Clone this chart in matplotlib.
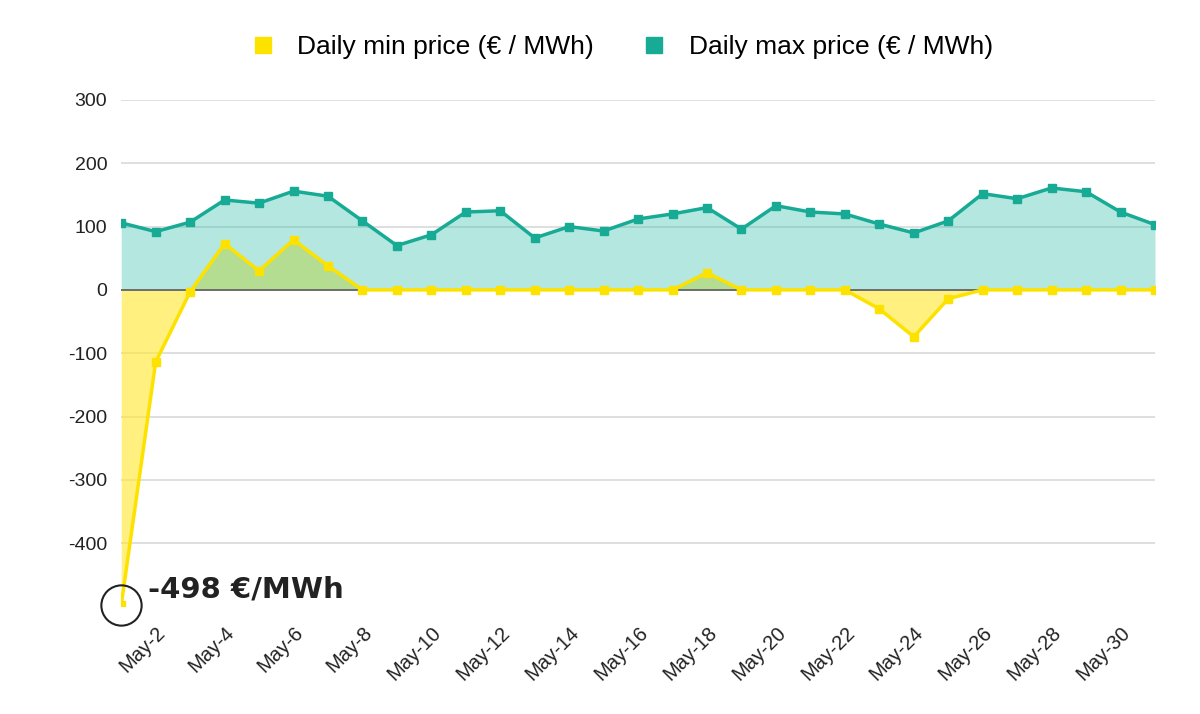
import numpy as np
import matplotlib.pyplot as plt
from matplotlib.lines import Line2D

plt.rcParams['font.family'] = ['Liberation Sans', 'DejaVu Sans']
plt.rcParams['axes.unicode_minus'] = False

days = [f"May-{d}" for d in range(1, 32)]

# Daily max price (EUR / MWh)
max_price = [106, 92, 107, 142, 137, 156, 148, 109, 70, 87, 123, 125, 82, 100, 93,
             112, 120, 130, 96, 133, 123, 120, 104, 90, 109, 152, 144, 161, 155, 123, 103]

# Daily min price (EUR / MWh)
min_price = [-498, -114, -3, 73, 30, 79, 38, 0, 0, 0, 0, 0, 0, 0, 0,
             0, 0, 27, 0, 0, 0, 0, -30, -74, -14, 0, 0, 0, 0, 0, 0]

teal = '#17ab95'
yellow = '#fde200'

fig = plt.figure(figsize=(12, 7.14), dpi=100)
ax = fig.add_axes([0.101, 0.1506, 0.8615, 0.7094])

x = np.arange(len(days))
ax.fill_between(x, min_price, 0, color='#ffe83a', alpha=0.65, linewidth=0, zorder=1)
ax.fill_between(x, max_price, 0, color='#3cc0b0', alpha=0.38, linewidth=0, zorder=1)
ax.axhline(0, color='#666666', linewidth=1.3, zorder=2)
ax.plot(x, max_price, color=teal, linewidth=2.5, marker='s', markersize=6, zorder=3)
ax.plot(x, min_price, color=yellow, linewidth=2.5, marker='s', markersize=6, zorder=4)

ax.set_xlim(0, len(days) - 1)
ax.set_ylim(-500, 300)
ax.set_yticks(range(-400, 301, 100))
ax.grid(axis='y', color='#d9d9d9', linewidth=1.2)
ax.set_axisbelow(True)
for s in ax.spines.values():
    s.set_visible(False)
ax.tick_params(axis='both', length=0, labelsize=14, colors='#222222', pad=10)

ax.set_xticks(x[1::2])
ax.set_xticklabels(days[1::2], rotation=45, ha='right', rotation_mode='anchor')
ax.tick_params(axis='x', pad=12, labelsize=14.5)

# highlight the extreme low
ax.plot([0], [min_price[0]], marker='o', markersize=29, markerfacecolor='none',
        markeredgecolor='#222222', markeredgewidth=1.5, clip_on=False, zorder=5)
ax.annotate(f"{min_price[0]} €/MWh", xy=(0, min_price[0]), xytext=(19, 11),
            textcoords='offset points', fontsize=21, fontweight='bold', color='#222222',
            family=['DejaVu Sans'], va='center', ha='left', annotation_clip=False)

handles = [Line2D([], [], marker='s', linestyle='none', markersize=11, color=yellow),
           Line2D([], [], marker='s', linestyle='none', markersize=11, color=teal)]
fig.legend(handles, ["Daily min price (€ / MWh)", "Daily max price (€ / MWh)"],
           loc='center', bbox_to_anchor=(0.512, 0.934), ncol=2, frameon=False,
           fontsize=19, handletextpad=0.3, columnspacing=1.3)

fig.savefig('out.png', dpi=100)
